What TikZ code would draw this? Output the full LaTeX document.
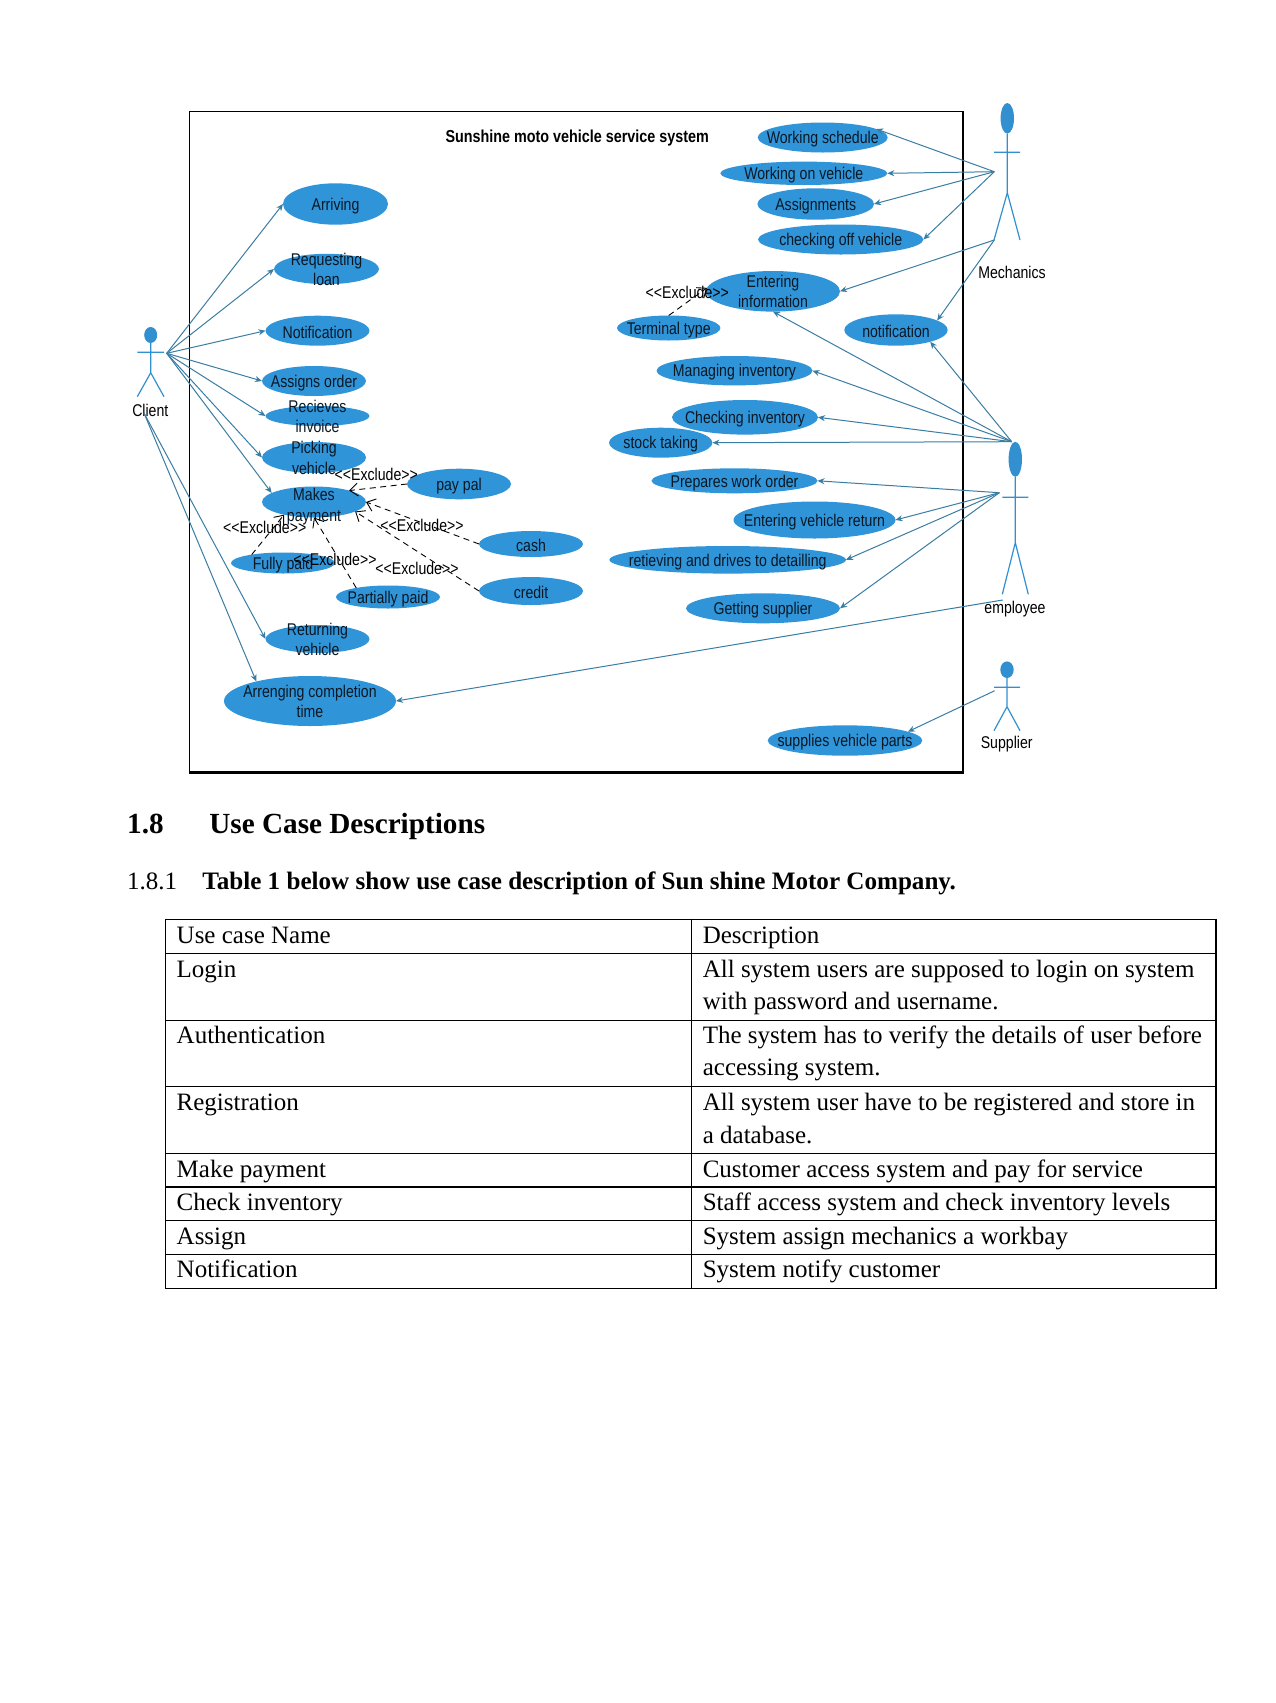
\documentclass[tikz,border=0pt]{standalone}
\usepackage{fontspec}
\setmainfont{Liberation Serif}
\newfontfamily\dgfont[FakeStretch=0.83]{Liberation Sans}
\usetikzlibrary{shapes.geometric,arrows.meta}
\definecolor{ucfill}{HTML}{3094D8}
\definecolor{ucline}{HTML}{3A7DA3}
\definecolor{actorblue}{HTML}{3390D0}
\definecolor{uctxt}{HTML}{0A1825}
\tikzset{
  ucshape/.style={ellipse,fill=ucfill,draw=none,inner sep=0pt,outer sep=0pt},
  uctext/.style={font=\dgfont\fontsize{17}{20.5}\selectfont,text=uctxt,align=center,inner sep=0pt,yshift=-1.8pt},
  twoline/.style={yshift=1.5pt},
  lbl/.style={font=\dgfont\fontsize{17}{20.5}\selectfont,text=black,inner sep=0pt},
  ttl/.style={font=\dgfont\bfseries\fontsize{17.3}{20}\selectfont,text=black,inner sep=0pt,anchor=base west},
  conn/.style={draw=ucline,line width=1pt,-{Stealth[length=7pt,width=6pt]}},
  excl/.style={draw=black,line width=0.9pt,dash pattern=on 6pt off 4.5pt,-{Straight Barb[length=8pt,width=13pt]}},
  actor/.style={draw=actorblue,line width=1.2pt},
  actorhead/.style={ellipse,fill=actorblue,inner sep=0pt,outer sep=0pt},
  cell/.style={font=\fontsize{25}{30}\selectfont,text=black,anchor=base west,inner sep=0pt},
  rulethin/.style={draw=black,line width=1.2pt},
  rulethick/.style={draw=black,line width=2.4pt},
}
\newcommand{\ucase}[7][]{\node[ucshape,minimum width=#5pt,minimum height=#6pt,label={[uctext,#1]center:#7}] (#2) at (#3,#4) {};}
\begin{document}
\begin{tikzpicture}[x=1pt,y=-1pt]
\useasboundingbox (0,0) rectangle (1275,1703);
\fill[white] (0,0) rectangle (1275,1703);
% system frame
\draw[rulethin] (189.5,772) -- (189.5,111.5) -- (963,111.5) -- (963,772);
\draw[rulethick] (188.9,772.3) -- (963.6,772.3);
\node[ttl] (title) at (445.3,142.7) {Sunshine moto vehicle service system};
% actors
\node[actorhead,minimum width=13pt,minimum height=16pt] (clienthead) at (150.7,335) {};
\draw[actor] (clienthead) -- (150.7,372.7) -- (137.3,396.7) (150.7,372.7) -- (164,396.7) (137.3,352.3) -- (164,352.3);
\node[lbl] (clientlbl) at (150.3,410) {Client};
\coordinate (clientA) at (166.7,353.3);
\coordinate (clientB) at (144,413);
\node[actorhead,minimum width=13.4pt,minimum height=30.6pt] (mechhead) at (1007.3,118.3) {};
\draw[actor] (mechhead) -- (1007.3,192.7) -- (994,240) (1007.3,192.7) -- (1020,240) (994,152.3) -- (1020,152.3);
\node[lbl] (mechlbl) at (1012,272) {Mechanics};
\coordinate (mechA) at (994.3,171.7);
\coordinate (mechB) at (994.3,240);
\node[actorhead,minimum width=13.4pt,minimum height=35pt] (emphead) at (1015.3,459.3) {};
\draw[actor] (emphead) -- (1015.3,542.7) -- (1002.3,594.3) (1015.3,542.7) -- (1028.3,594.3) (1002.3,497.3) -- (1028.3,497.3);
\node[lbl] (emplbl) at (1015,609.3) {employee};
\coordinate (empA) at (1011.7,441.7);
\coordinate (empB) at (999.3,492.7);
\coordinate (empC) at (1002.7,600);
\node[actorhead,minimum width=13.4pt,minimum height=16.6pt] (suphead) at (1007,669.7) {};
\draw[actor] (suphead) -- (1007,706.7) -- (994,730.7) (1007,706.7) -- (1020,730.7) (994,687.3) -- (1020,687.3);
\node[lbl] (suplbl) at (1006.7,744) {Supplier};
\coordinate (supA) at (994.7,690.7);
% use cases: left
\ucase{arriving}{335.5}{204}{105}{41.4}{Arriving}
\ucase[twoline]{requesting}{326.5}{269}{105}{30.4}{Requesting\\loan}
\ucase{notifleft}{317.5}{330.7}{104}{30}{Notification}
\ucase{assigns}{314}{381}{104}{30}{Assigns order}
\ucase[twoline]{recieves}{317.5}{416}{104}{20}{Recieves\\invoice}
\ucase[twoline]{picking}{314}{457.5}{104}{31}{Picking\\vehicle}
\ucase[yshift=-2.7pt]{makes}{314}{502}{104}{31}{Makes\\payment}
\ucase{paypal}{459}{484}{104}{30.6}{pay pal}
\ucase{cash}{531}{544}{104}{26}{cash}
\ucase{credit}{531}{591}{104}{28}{credit}
\ucase{fully}{283}{563}{104}{21}{Fully paid}
\ucase{partially}{388}{597}{104}{23}{Partially paid}
\ucase[twoline]{returning}{317.5}{639}{104}{28}{Returning\\vehicle}
\ucase[twoline]{arrenging}{310}{701}{172}{50}{Arrenging completion\\time}
% use cases: right
\ucase{schedule}{822.7}{137.5}{130}{30}{Working schedule}
\ucase{workingon}{803.8}{173.3}{167}{23.4}{Working on vehicle}
\ucase{assignments}{815.7}{204}{116.6}{31.4}{Assignments}
\ucase{checkoff}{840.7}{239.5}{165.4}{30}{checking off vehicle}
\ucase[twoline]{entering}{773}{291.3}{134}{40.6}{Entering\\information}
\ucase{terminal}{668.7}{328}{103.4}{25}{Terminal type}
\ucase{notifright}{896}{330}{103.4}{31.4}{notification}
\ucase{managing}{734.5}{370.7}{156}{29.4}{Managing inventory}
\ucase{checkinv}{745}{417.3}{146}{34.6}{Checking inventory}
\ucase{stock}{660.7}{442.7}{103.4}{30}{stock taking}
\ucase{prepares}{734.5}{480.8}{166}{25}{Prepares work order}
\ucase{enterret}{814.5}{520}{162}{37}{Entering vehicle return}
\ucase{retieving}{727.7}{559.8}{236.6}{27.6}{retieving and drives to detailling}
\ucase{getting}{763}{608.3}{154}{30}{Getting supplier}
\ucase{supplies}{845}{740.5}{154.6}{30.4}{supplies vehicle parts}
% connectors
\draw[conn] (clientA) -- (arriving.west);
\draw[conn] (clientA) -- (requesting.west);
\draw[conn] (clientA) -- (notifleft.west);
\draw[conn] (clientA) -- (assigns.west);
\draw[conn] (clientA) -- (recieves.west);
\draw[conn] (clientA) -- (picking.west);
\draw[conn] (clientA) -- (makes.168);
\draw[conn] (clientB) -- (returning.west);
\draw[conn] (clientB) -- (arrenging.160);
\draw[conn] (mechA) -- (schedule.9.5);
\draw[conn] (mechA) -- (workingon.east);
\draw[conn] (mechA) -- (assignments.east);
\draw[conn] (mechA) -- (checkoff.east);
\draw[conn] (mechB) -- (entering.east);
\draw[conn] (mechB) -- (notifright.13);
\draw[conn] (empA) -- (entering.south);
\draw[conn] (empA) -- (notifright.-19);
\draw[conn] (empA) -- (managing.east);
\draw[conn] (empA) -- (checkinv.east);
\draw[conn] (empA) -- (stock.east);
\draw[conn] (empB) -- (prepares.east);
\draw[conn] (empB) -- (enterret.east);
\draw[conn] (empB) -- (retieving.east);
\draw[conn] (empB) -- (getting.east);
\draw[conn] (empC) -- (arrenging.east);
\draw[conn] (supA) -- (supplies.8);
% exclude relations
\draw[excl] (paypal.west) -- (makes.18);
\draw[excl] (cash.west) -- (makes.east);
\draw[excl] (credit.west) -- (makes.-13);
\draw[excl] (fully.165) -- (makes.203);
\draw[excl] (partially.164) -- (makes.south);
\draw[excl] (terminal.north) -- (entering.177);
\node[lbl] (ex1) at (376.3,474) {<{}<Exclude>{}>};
\node[lbl] (ex2) at (422,525) {<{}<Exclude>{}>};
\node[lbl] (ex3) at (264.7,527.7) {<{}<Exclude>{}>};
\node[lbl] (ex4) at (335,559.3) {<{}<Exclude>{}>};
\node[lbl] (ex5) at (417,568.7) {<{}<Exclude>{}>};
\node[lbl] (ex6) at (687.3,292.7) {<{}<Exclude>{}>};
% headings
\node[anchor=base west,inner sep=0pt,font=\bfseries\fontsize{29.2}{34}\selectfont] (h1num) at (127,833.7) {1.8};
\node[anchor=base west,inner sep=0pt,font=\bfseries\fontsize{29.2}{34}\selectfont] (h1txt) at (209.2,833.7) {Use Case Descriptions};
\node[cell] (h2num) at (127,889.3) {1.8.1};
\node[cell,font=\bfseries\fontsize{25.1}{30}\selectfont] (h2txt) at (202.2,889.3) {Table 1 below show use case description of Sun shine Motor Company.};
% table
\draw[rulethin] (165.3,919.3) -- (1216,919.3) (165.3,953.3) -- (1216,953.3) (165.3,1020.3) -- (1216,1020.3)
  (165.3,1086.3) -- (1216,1086.3) (165.3,1153.3) -- (1216,1153.3) (165.3,1220.3) -- (1216,1220.3)
  (165.3,1254.3) -- (1216,1254.3) (165.3,1288.3) -- (1216,1288.3);
\draw[rulethick] (165.3,1186.7) -- (1216,1186.7);
\draw[rulethin] (165.3,918.7) -- (165.3,1288.9) (691.5,918.7) -- (691.5,1288.9) (1216,918.7) -- (1216,1288.9);
\node[cell] (a0) at (176.5,943.7) {Use case Name};
\node[cell] (b0) at (702.6,943.7) {Description};
\node[cell] (a1) at (176.5,977.2) {Login};
\node[cell] (b1) at (702.6,977.2) {All system users are supposed to login on system};
\node[cell] (b1b) at (702.6,1009.8) {with password and username.};
\node[cell] (a2) at (176.5,1043.4) {Authentication};
\node[cell] (b2) at (702.6,1043.4) {The system has to verify the details of user before};
\node[cell] (b2b) at (702.6,1075.8) {accessing system.};
\node[cell] (a3) at (176.5,1110.3) {Registration};
\node[cell] (b3) at (702.6,1110.3) {All system user have to be registered and store in};
\node[cell] (b3b) at (702.6,1143.2) {a database.};
\node[cell] (a4) at (176.5,1177.7) {Make payment};
\node[cell] (b4) at (702.6,1177.7) {Customer access system and pay for service};
\node[cell] (a5) at (176.5,1210.3) {Check inventory};
\node[cell] (b5) at (702.6,1210.3) {Staff access system and check inventory levels};
\node[cell] (a6) at (176.5,1244.3) {Assign};
\node[cell] (b6) at (702.6,1244.3) {System assign mechanics a workbay};
\node[cell] (a7) at (176.5,1277.7) {Notification};
\node[cell] (b7) at (702.6,1277.7) {System notify customer};
\end{tikzpicture}
\end{document}
